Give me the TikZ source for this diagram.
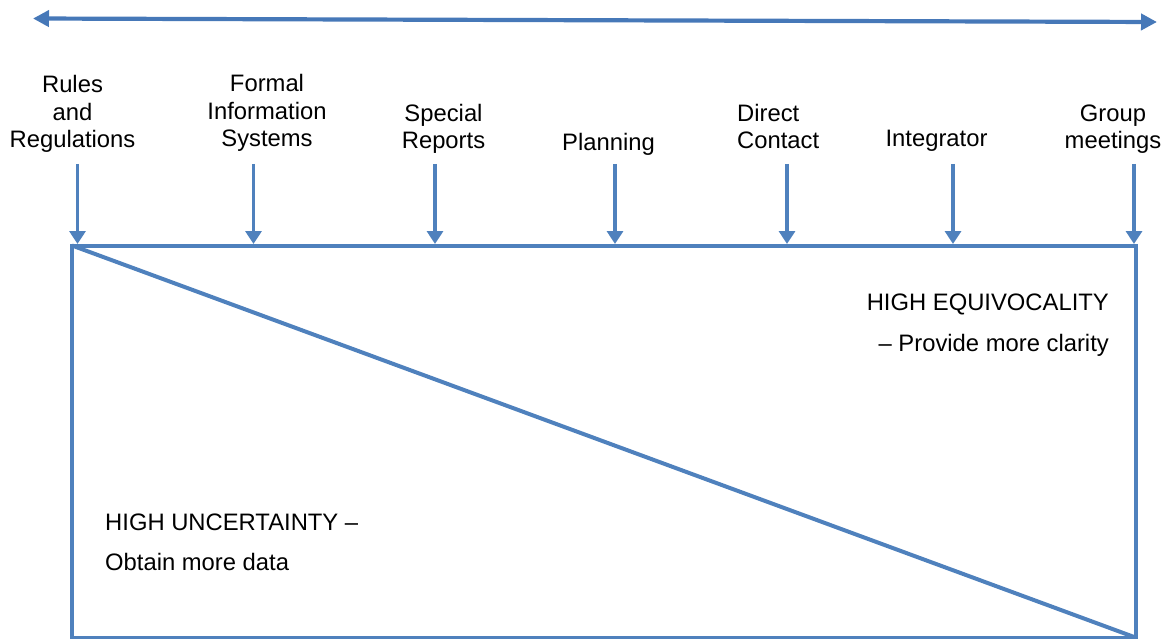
\documentclass[tikz,border=0pt]{standalone}
\usepackage{fontspec}
\setmainfont{Liberation Sans}
\usetikzlibrary{arrows.meta}
\definecolor{boxblue}{HTML}{4F81BD}
\definecolor{spanblue}{HTML}{4678B8}
\begin{document}
\begin{tikzpicture}[x=1pt,y=-1pt,
  lbl/.style={inner sep=0pt,align=center,anchor=south,font=\fontsize{23.8}{27.5}\selectfont},
  txt/.style={inner sep=0pt,font=\fontsize{23.8}{27.5}\selectfont},
  feed/.style={draw=boxblue,line width=3.8pt,-{Triangle[width=16pt,length=13pt]}},
  frame/.style={draw=boxblue,line width=4pt},
  span/.style={draw=spanblue,line width=4.2pt,{Triangle[width=16pt,length=16pt]}-{Triangle[width=16pt,length=16pt]}}]
\useasboundingbox (0,0) rectangle (1169,639);

% spectrum arrow along the top
\coordinate (spanL) at (33,18.5);
\coordinate (spanR) at (1157,22);
\draw[span] (spanL) -- (spanR);

% coordination mechanisms (baseline of last line + strut depth 8.25)
\node[lbl] (rules)   at (72.5,156.25) {Rules\\and\\Regulations\strut};
\node[lbl] (formal)  at (267,155.25)  {Formal\\Information\\Systems\strut};
\node[lbl] (special) at (443.5,157.25) {Special\\Reports\strut};
\node[lbl] (plan)    at (608.5,159.25) {Planning\strut};
\node[lbl,align=left,anchor=south west] (direct) at (737,157.25) {Direct\\Contact\strut};
\node[lbl] (integ)   at (936.5,155.25) {Integrator\strut};
\node[lbl] (group)   at (1113,157.25) {Group\\meetings\strut};

% frame with diagonal split
\coordinate (nw) at (72,245.5);
\coordinate (se) at (1135.5,637.5);
\draw[frame] (nw) rectangle (se);
\draw[frame] (nw) -- (se);

% feed arrows into the frame
\foreach \i/\x in {1/77.5,2/253.5,3/435,4/615,5/787,6/953,7/1134}{
  \coordinate (top\i) at (\x,164);
  \coordinate (bot\i) at (\x,244);
  \draw[feed] (top\i) -- (bot\i);
}

% region labels
\node[txt,anchor=base east] (equiv)   at (1109,310) {HIGH EQUIVOCALITY};
\node[txt,anchor=base east] (clarity) at (1109,351) {– Provide more clarity};
\node[txt,anchor=base west] (uncert)  at (105,530) {HIGH UNCERTAINTY –};
\node[txt,anchor=base west] (data)    at (105,570) {Obtain more data};
\end{tikzpicture}
\end{document}
